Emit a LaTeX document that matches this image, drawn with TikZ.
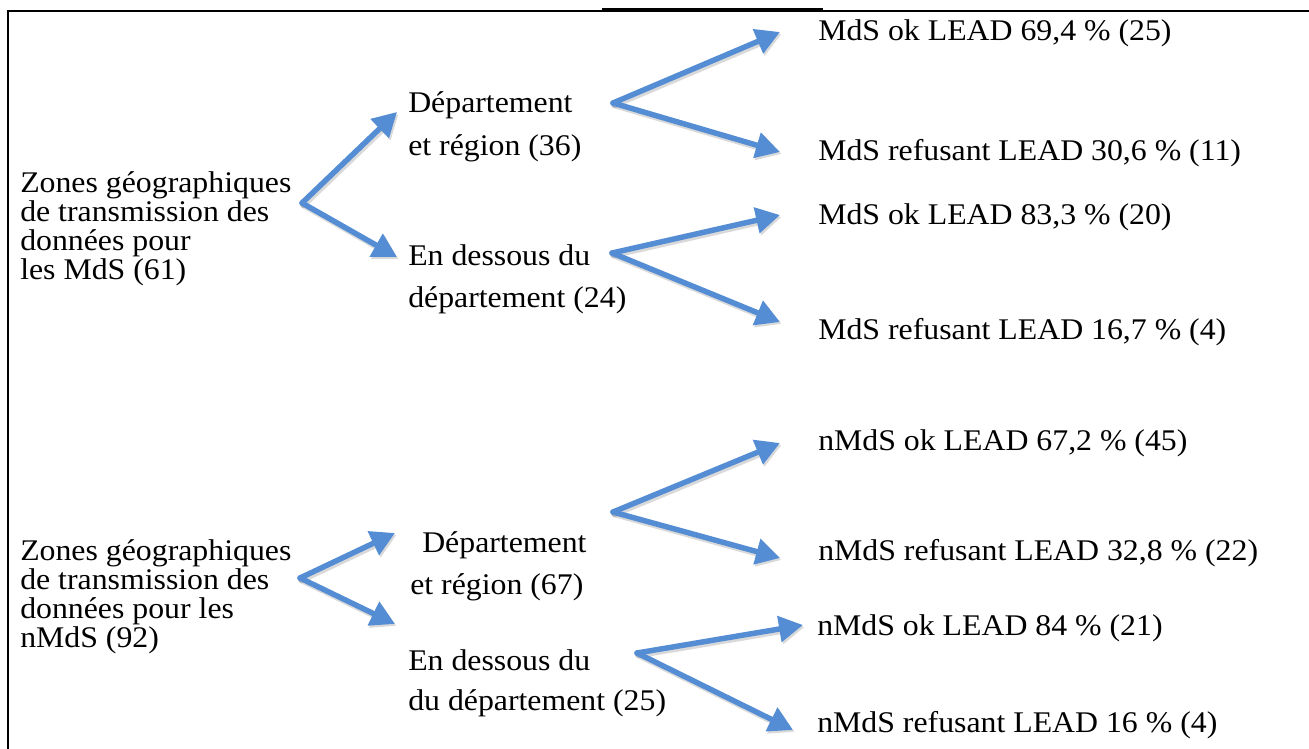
\documentclass[tikz,border=0pt]{standalone}
\usepackage{fontspec}
\setmainfont{Liberation Serif}[FakeStretch=1.06]
\usetikzlibrary{arrows.meta}
\definecolor{arrowblue}{RGB}{84,141,212}
\newcommand\myarrow[2]{%
  \draw[shd] ([shift={(1.5,2)}]#1) -- ([shift={(1.5,2)}]#2);
  \draw[arr] (#1) -- (#2);}
\begin{document}
\begin{tikzpicture}[x=0.75pt,y=-0.75pt,
  txt/.style={anchor=base west, inner sep=0pt, font=\fontsize{22.5}{27}\selectfont},
  arr/.style={draw=arrowblue, line width=4.1pt, line cap=round, -{Triangle[length=18pt,width=19pt]}},
  shd/.style={draw=black, opacity=0.15, line width=4.8pt, line cap=round, -{Triangle[length=18pt,width=19pt]}},
  frame/.style={line width=1.6pt}
]
\useasboundingbox (0,0) rectangle (1309,749);
% frame
\draw[frame] (7,11) -- (1309,11);
\draw[frame] (8,10.2) -- (8,749);
\draw[frame] (602,9.5) -- (823,9.5);

% left blocks
\node[txt] (z1a) at (20,192) {Zones géographiques};
\node[txt] (z1b) at (20,221) {de transmission des};
\node[txt] (z1c) at (20,250) {données pour};
\node[txt] (z1d) at (20,279) {les MdS (61)};

\node[txt] (z2a) at (20,560) {Zones géographiques};
\node[txt] (z2b) at (20,589) {de transmission des};
\node[txt] (z2c) at (20,618) {données pour les};
\node[txt] (z2d) at (20,647) {nMdS (92)};

% middle blocks
\node[txt] (m1a) at (408,113) {Département};
\node[txt] (m1b) at (408,155) {et région (36)};
\node[txt] (m2a) at (408,265) {En dessous du};
\node[txt] (m2b) at (408,307) {département (24)};

\node[txt] (m3a) at (422,552) {Département};
\node[txt] (m3b) at (410,594) {et région (67)};
\node[txt] (m4a) at (408,670) {En dessous du};
\node[txt] (m4b) at (408,710) {du département (25)};

% right texts
\node[txt] (r1) at (818,41) {MdS ok LEAD 69,4 \% (25)};
\node[txt] (r2) at (818,160) {MdS refusant LEAD 30,6 \% (11)};
\node[txt] (r3) at (818,224) {MdS ok LEAD 83,3 \% (20)};
\node[txt] (r4) at (818,339) {MdS refusant LEAD 16,7 \% (4)};
\node[txt] (r5) at (818,450) {nMdS ok LEAD 67,2 \% (45)};
\node[txt] (r6) at (818,560) {nMdS refusant LEAD 32,8 \% (22)};
\node[txt] (r7) at (817,635) {nMdS ok LEAD 84 \% (21)};
\node[txt] (r8) at (817,732) {nMdS refusant LEAD 16 \% (4)};

% arrow points
\coordinate (o1) at (302,203);
\coordinate (t1u) at (397,112);
\coordinate (t1d) at (397,257);
\coordinate (o2) at (613,103);
\coordinate (t2u) at (780,32);
\coordinate (t2d) at (780,152);
\coordinate (o3) at (612,253);
\coordinate (t3u) at (780,215);
\coordinate (t3d) at (780,322);
\coordinate (o4) at (300,578);
\coordinate (t4u) at (395,533);
\coordinate (t4d) at (395,624);
\coordinate (o5) at (613,512);
\coordinate (t5u) at (780,443);
\coordinate (t5d) at (780,558);
\coordinate (o6) at (637,653);
\coordinate (t6u) at (803,625);
\coordinate (t6d) at (793,730);

\myarrow{o1}{t1u}\myarrow{o1}{t1d}
\myarrow{o2}{t2u}\myarrow{o2}{t2d}
\myarrow{o3}{t3u}\myarrow{o3}{t3d}
\myarrow{o4}{t4u}\myarrow{o4}{t4d}
\myarrow{o5}{t5u}\myarrow{o5}{t5d}
\myarrow{o6}{t6u}\myarrow{o6}{t6d}
\end{tikzpicture}
\end{document}
